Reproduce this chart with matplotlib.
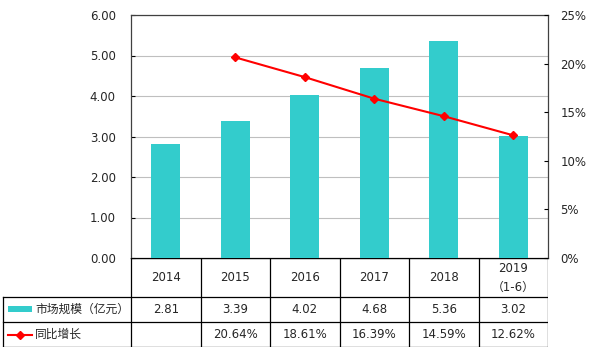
import matplotlib.pyplot as plt
import numpy as np

# --- data ---
YEARS = ['2014', '2015', '2016', '2017', '2018', '2019\n（1-6）']
MARKET = [2.81, 3.39, 4.02, 4.68, 5.36, 3.02]
GROWTH = [None, 20.64, 18.61, 16.39, 14.59, 12.62]
SERIES_NAMES = ['市场规模（亿元）', '同比增长']

BAR_COLOR = '#33CCCC'
LINE_COLOR = '#FF0000'
TXT = '#262626'
FONT = ['DejaVu Sans', 'Noto Sans CJK SC']

plt.rcParams['font.family'] = FONT

W, H = 591, 350
fig = plt.figure(figsize=(W / 100, H / 100), dpi=100)

# plot area in pixels
L, R, T, B = 131, 548, 15, 258
ax = fig.add_axes([L / W, 1 - B / H, (R - L) / W, (B - T) / H])
x = np.arange(len(YEARS))

ax.bar(x, MARKET, width=0.42, color=BAR_COLOR, zorder=3)
ax.set_xlim(-0.5, len(YEARS) - 0.5)
ax.set_ylim(0, 6)
ax.set_yticks(np.arange(0, 7, 1))
ax.set_yticklabels([f'{v:.2f}' for v in range(7)])
ax.set_xticks([])
ax.grid(axis='y', color='#BFBFBF', linewidth=0.8, zorder=0)
ax.tick_params(axis='y', direction='in', length=3, labelsize=8.5,
               labelcolor=TXT, pad=11)
for s in ax.spines.values():
    s.set_color('#404040')
    s.set_linewidth(0.9)

ax2 = ax.twinx()
gx = [i for i, g in enumerate(GROWTH) if g is not None]
gy = [g for g in GROWTH if g is not None]
ax2.plot(gx, gy, color=LINE_COLOR, linewidth=1.5, marker='D',
         markersize=4, zorder=4)
ax2.set_ylim(0, 25)
ax2.set_yticks(np.arange(0, 26, 5))
ax2.set_yticklabels([f'{v}%' for v in range(0, 26, 5)])
ax2.tick_params(axis='y', direction='in', length=3, labelsize=8.5,
                labelcolor=TXT, pad=9)
for s in ax2.spines.values():
    s.set_visible(False)

# --- data table below the plot ---
px = (R - L) / len(YEARS)
tb_top, tb_bot = B, 347
tax = fig.add_axes([0, 1 - tb_bot / H, R / W, (tb_bot - tb_top) / H])
tax.set_xlim(-0.5 - L / px, len(YEARS) - 0.5)
row_edges = [0, 39, 64, 89]  # pixel offsets from table top
tax.set_ylim(row_edges[-1], 0)
tax.axis('off')

lw = 0.9
x_left = -0.5 - (L - 3) / px
n = len(YEARS)
# horizontal lines
tax.plot([-0.5, n - 0.5], [0, 0], color='k', lw=lw)
for yy in row_edges[1:]:
    tax.plot([x_left, n - 0.5], [yy, yy], color='k', lw=lw)
# vertical lines
for i in range(n + 1):
    tax.plot([i - 0.5, i - 0.5], [0, row_edges[-1]], color='k', lw=lw)
tax.plot([x_left, x_left], [row_edges[1], row_edges[-1]], color='k', lw=lw)

for i, yr in enumerate(YEARS):
    tax.text(i, row_edges[1] / 2, yr, ha='center', va='center',
             fontsize=8.5, color=TXT, linespacing=1.6)
    tax.text(i, (row_edges[1] + row_edges[2]) / 2, f'{MARKET[i]:.2f}',
             ha='center', va='center', fontsize=8.5, color=TXT)
    if GROWTH[i] is not None:
        tax.text(i, (row_edges[2] + row_edges[3]) / 2, f'{GROWTH[i]:.2f}%',
                 ha='center', va='center', fontsize=8.5, color=TXT)

# legend keys
k0 = -0.5 - (L - 8) / px
k1 = -0.5 - (L - 32) / px
ym1 = (row_edges[1] + row_edges[2]) / 2
ym2 = (row_edges[2] + row_edges[3]) / 2
tax.fill_between([k0, k1], ym1 - 4, ym1 + 2, color=BAR_COLOR, lw=0)
tax.plot([k0, k1], [ym2, ym2], color=LINE_COLOR, lw=1.5)
tax.plot([(k0 + k1) / 2], [ym2], color=LINE_COLOR, marker='D', markersize=4)
tx = -0.5 - (L - 35) / px
tax.text(tx, ym1, SERIES_NAMES[0], ha='left', va='center', fontsize=8.5,
         color=TXT, family=['Noto Sans CJK SC', 'DejaVu Sans'])
tax.text(tx, ym2, SERIES_NAMES[1], ha='left', va='center', fontsize=8.5,
         color=TXT, family=['Noto Sans CJK SC', 'DejaVu Sans'])

fig.savefig('out.png', dpi=100)
